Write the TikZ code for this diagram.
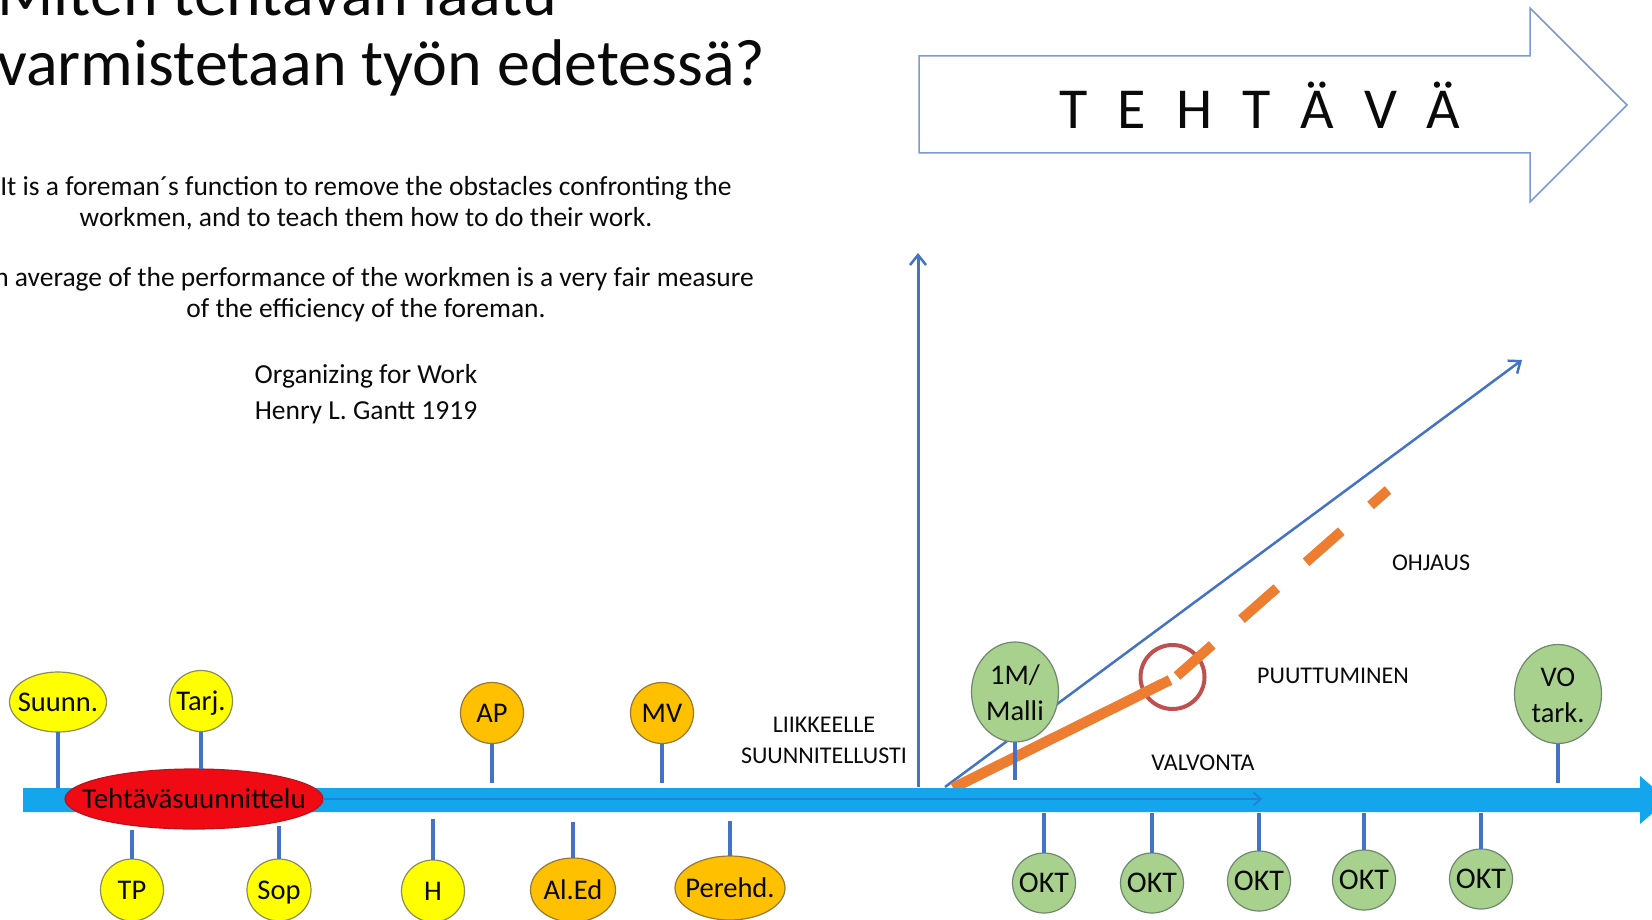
\documentclass[tikz,border=0pt]{standalone}
\usepackage{fontspec}
\setmainfont{Carlito}
\usetikzlibrary{arrows.meta,shapes.geometric}

\definecolor{barblue}{RGB}{20,166,236}
\definecolor{innerblue}{RGB}{30,132,214}
\definecolor{lineblue}{RGB}{68,114,196}
\definecolor{arrowout}{RGB}{125,155,210}
\definecolor{ylw}{RGB}{255,255,0}
\definecolor{ylwline}{RGB}{140,140,90}
\definecolor{org}{RGB}{255,192,0}
\definecolor{orgline}{RGB}{150,120,50}
\definecolor{grnfill}{RGB}{169,209,142}
\definecolor{grnline}{RGB}{110,135,110}
\definecolor{redfill}{RGB}{240,10,20}
\definecolor{redline}{RGB}{185,20,30}
\definecolor{circred}{RGB}{192,80,77}
\definecolor{orangeline}{RGB}{237,125,49}
\definecolor{txt}{RGB}{10,10,10}

\newcommand\zb[1]{\makebox[0pt]{\smash{#1}}\vphantom{H}}
\newcommand\twol[2]{\makebox[0pt]{\raisebox{-3.5pt}[\height][\depth]{\begin{tabular}{@{}c@{}}#1\\[2pt]#2\end{tabular}}}}

\tikzset{
  ev/.style={ellipse, draw, line width=1.2pt, inner sep=0pt, outer sep=0pt, text=txt,
    font=\fontsize{28.5}{34}\selectfont},
  ynode/.style={ev, fill=ylw, draw=ylwline},
  onode/.style={ev, fill=org, draw=orgline},
  gnode/.style={ev, fill=grnfill, draw=grnline},
  rnode/.style={ev, fill=redfill, draw=redline},
  stem/.style={draw=lineblue, line width=3.5pt},
  lbl/.style={font=\fontsize{24}{30}\selectfont, text=txt, inner sep=0pt, anchor=base},
  quote/.style={font=\fontsize{27.5}{30}\selectfont, text=txt, inner sep=0pt, anchor=base},
  ttl/.style={font=\fontsize{66}{70}\selectfont, text=txt, inner sep=0pt, anchor=base west},
  barb/.style={-{Straight Barb[length=10pt,width=16pt,line width=2.5pt]}},
}

\begin{document}
\begin{tikzpicture}[x=1pt,y=-1pt]
\fill[white] (0,0) rectangle (1652,920);
\useasboundingbox (0,0) rectangle (1652,920);

% title
\node[ttl] (title1) at (-3,16) {Miten tehtävän laatu};
\node[ttl] (title2) at (-3,86) {varmistetaan työn edetessä?};

% quote
\node[quote] (q1) at (366,196) {It is a foreman´s function to remove the obstacles confronting the};
\node[quote] (q2) at (366,226) {workmen, and to teach them how to do their work.};
\node[quote] (q3) at (366,286) {An average of the performance of the workmen is a very fair measure};
\node[quote] (q4) at (366,317) {of the efficiency of the foreman.};
\node[quote] (q5) at (366,383) {Organizing for Work};
\node[quote] (q6) at (366,419) {Henry L. Gantt 1919};

% top arrow
\draw[arrowout, line width=1.5pt, line join=miter]
  (919,56) -- (1530,56) -- (1530,8) -- (1627,105) -- (1530,202) -- (1530,153) -- (919,153) -- cycle;
\node[font=\fontsize{58}{70}\selectfont, text=txt, inner sep=0pt, anchor=base] (teht) at (1260,129)
  {\spaceskip=30pt\relax T E H T Ä V Ä};

% axis and rising lines
\coordinate (axbot) at (918,787);
\coordinate (axtop) at (918,253);
\draw[lineblue, line width=3pt, barb] (axbot) -- (axtop);
\coordinate (dstart) at (945,787);
\coordinate (dend) at (1522,360);
\draw[lineblue, line width=2.5pt, barb] (dstart) -- (dend);

\node[circle, draw=circred, line width=4pt, minimum size=64pt, inner sep=0pt] (ring) at (1172.5,677) {};
\coordinate (ostart) at (953,788);
\coordinate (obreak) at (1170,680);
\coordinate (dashstart) at (1177,676);
\coordinate (dashend) at (1388,490);
\draw[orangeline, line width=10.5pt] (ostart) -- (obreak);
\draw[orangeline, line width=10pt, dash pattern=on 47pt off 39pt] (dashstart) -- (dashend);

% timeline bar
\fill[barblue] (23,788) -- (1640,788) -- (1640,776) -- (1668,800) -- (1640,824) -- (1640,812) -- (23,812) -- cycle;

% ellipses
\node[rnode, minimum width=258pt, minimum height=60pt, font=\fontsize{29}{34}\selectfont] (tehtava) at (194,799) {\zb{Tehtäväsuunnittelu}};
\coordinate (innerend) at (1262,799);
\draw[innerblue, line width=2.5pt, -{Straight Barb[length=7pt,width=13pt,line width=2pt]}] (tehtava.east) -- (innerend);

\node[ynode, minimum width=97pt, minimum height=60pt] (suunn) at (58,702) {\zb{Suunn.}};
\node[ynode, minimum width=63pt, minimum height=61pt] (tarj) at (201,701) {\zb{Tarj.}};
\node[ynode, minimum width=63pt, minimum height=62pt] (tp) at (132,890) {\zb{TP}};
\node[ynode, minimum width=64pt, minimum height=62pt] (sop) at (279,890) {\zb{Sop}};
\node[ynode, minimum width=63pt, minimum height=62pt] (hh) at (433,891) {\zb{H}};

\node[onode, minimum width=63pt, minimum height=61pt] (ap) at (492,713) {\zb{AP}};
\node[onode, minimum width=63pt, minimum height=61pt] (mv) at (662,713) {\zb{MV}};
\node[onode, minimum width=85pt, minimum height=64pt] (aled) at (573,890) {\zb{Al.Ed}};
\node[onode, minimum width=110pt, minimum height=64pt] (perehd) at (730,888) {\zb{Perehd.}};

\node[gnode, minimum width=87pt, minimum height=100pt] (malli) at (1015,692) {\twol{1M/}{Malli}};
\node[gnode, minimum width=87pt, minimum height=98pt] (vo) at (1558,694) {\twol{VO}{tark.}};
\node[gnode, minimum width=63pt, minimum height=60pt, font=\fontsize{30}{34}\selectfont] (okt1) at (1044,883) {\zb{OKT}};
\node[gnode, minimum width=63pt, minimum height=60pt, font=\fontsize{30}{34}\selectfont] (okt2) at (1152,883) {\zb{OKT}};
\node[gnode, minimum width=63pt, minimum height=60pt, font=\fontsize{30}{34}\selectfont] (okt3) at (1259,881) {\zb{OKT}};
\node[gnode, minimum width=63pt, minimum height=60pt, font=\fontsize{30}{34}\selectfont] (okt4) at (1364,880) {\zb{OKT}};
\node[gnode, minimum width=63pt, minimum height=60pt, font=\fontsize{30}{34}\selectfont] (okt5) at (1481,879) {\zb{OKT}};

% stems
\draw[stem] (suunn.south) -- (suunn.south |- 0,788);
\draw[stem] (tarj.south) -- (tarj.south |- 0,769);
\draw[stem] (tp.north |- 0,830) -- (tp.north);
\draw[stem] (sop.north |- 0,826) -- (sop.north);
\draw[stem] (hh.north |- 0,819) -- (hh.north);
\draw[stem] (ap.south) -- (ap.south |- 0,783);
\draw[stem] (mv.south) -- (mv.south |- 0,783);
\draw[stem] (aled.north |- 0,822) -- (aled.north);
\draw[stem] (perehd.north |- 0,821) -- (perehd.north);
\draw[stem] (malli.south) -- (malli.south |- 0,780);
\draw[stem] (vo.south) -- (vo.south |- 0,783);
\foreach \k in {okt1,okt2,okt3,okt4,okt5}{
  \draw[stem] (\k.north |- 0,813) -- (\k.north);
}

% labels
\node[lbl] (liik) at (824,732) {LIIKKEELLE};
\node[lbl] (suunnit) at (824,763) {SUUNNITELLUSTI};
\node[lbl] (valv) at (1203,770) {VALVONTA};
\node[lbl] (puut) at (1333,683) {PUUTTUMINEN};
\node[lbl] (ohj) at (1431,570) {OHJAUS};
\end{tikzpicture}
\end{document}
